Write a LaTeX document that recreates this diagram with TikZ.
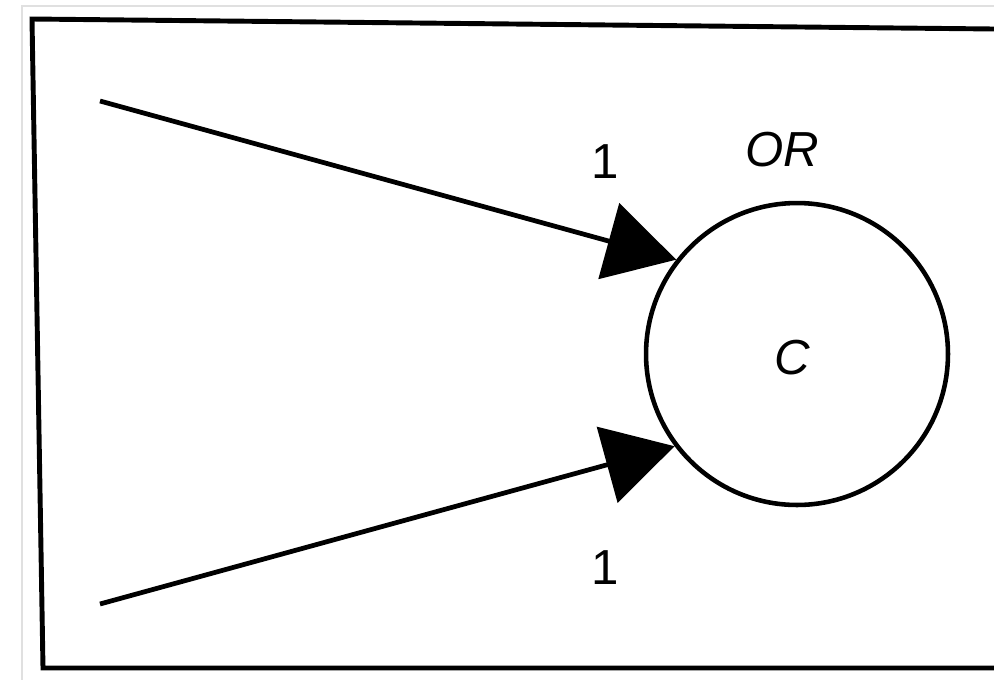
\documentclass[tikz,border=0pt]{standalone}
\usepackage{fontspec}
\setmainfont{Liberation Sans}
\usetikzlibrary{arrows.meta}
\tikzset{
  big/.style={font=\fontsize{28}{32}\selectfont},
  edge/.style={line width=2.7pt, -{Triangle[length=1.4cm, width=1.56cm]}}
}
\begin{document}
\begin{tikzpicture}[x=0.02cm, y=-0.02cm]
\useasboundingbox (0,0) rectangle (994,684);
% page edge
\draw[black!12, line width=1.5pt] (22,680) -- (22,6) -- (994,6);
% frame
\draw[line width=2.8pt] (994,29) -- (32,19) -- (43,668) -- (994,668);
% gate
\node[circle, draw, line width=2.6pt, minimum size=6.04cm, inner sep=0] (c) at (797,354) {};
\node[big] (cl) at (792,358) {\itshape C};
\node[big] (orl) at (782,150) {\itshape OR};
% inputs
\coordinate (in1) at (100,101);
\coordinate (in2) at (100,604);
\draw[edge] (in1) -- (c.142);
\draw[edge] (in2) -- (c.217);
\node[big] (w1) at (605,162) {1};
\node[big] (w2) at (605,568) {1};
\end{tikzpicture}
\end{document}
